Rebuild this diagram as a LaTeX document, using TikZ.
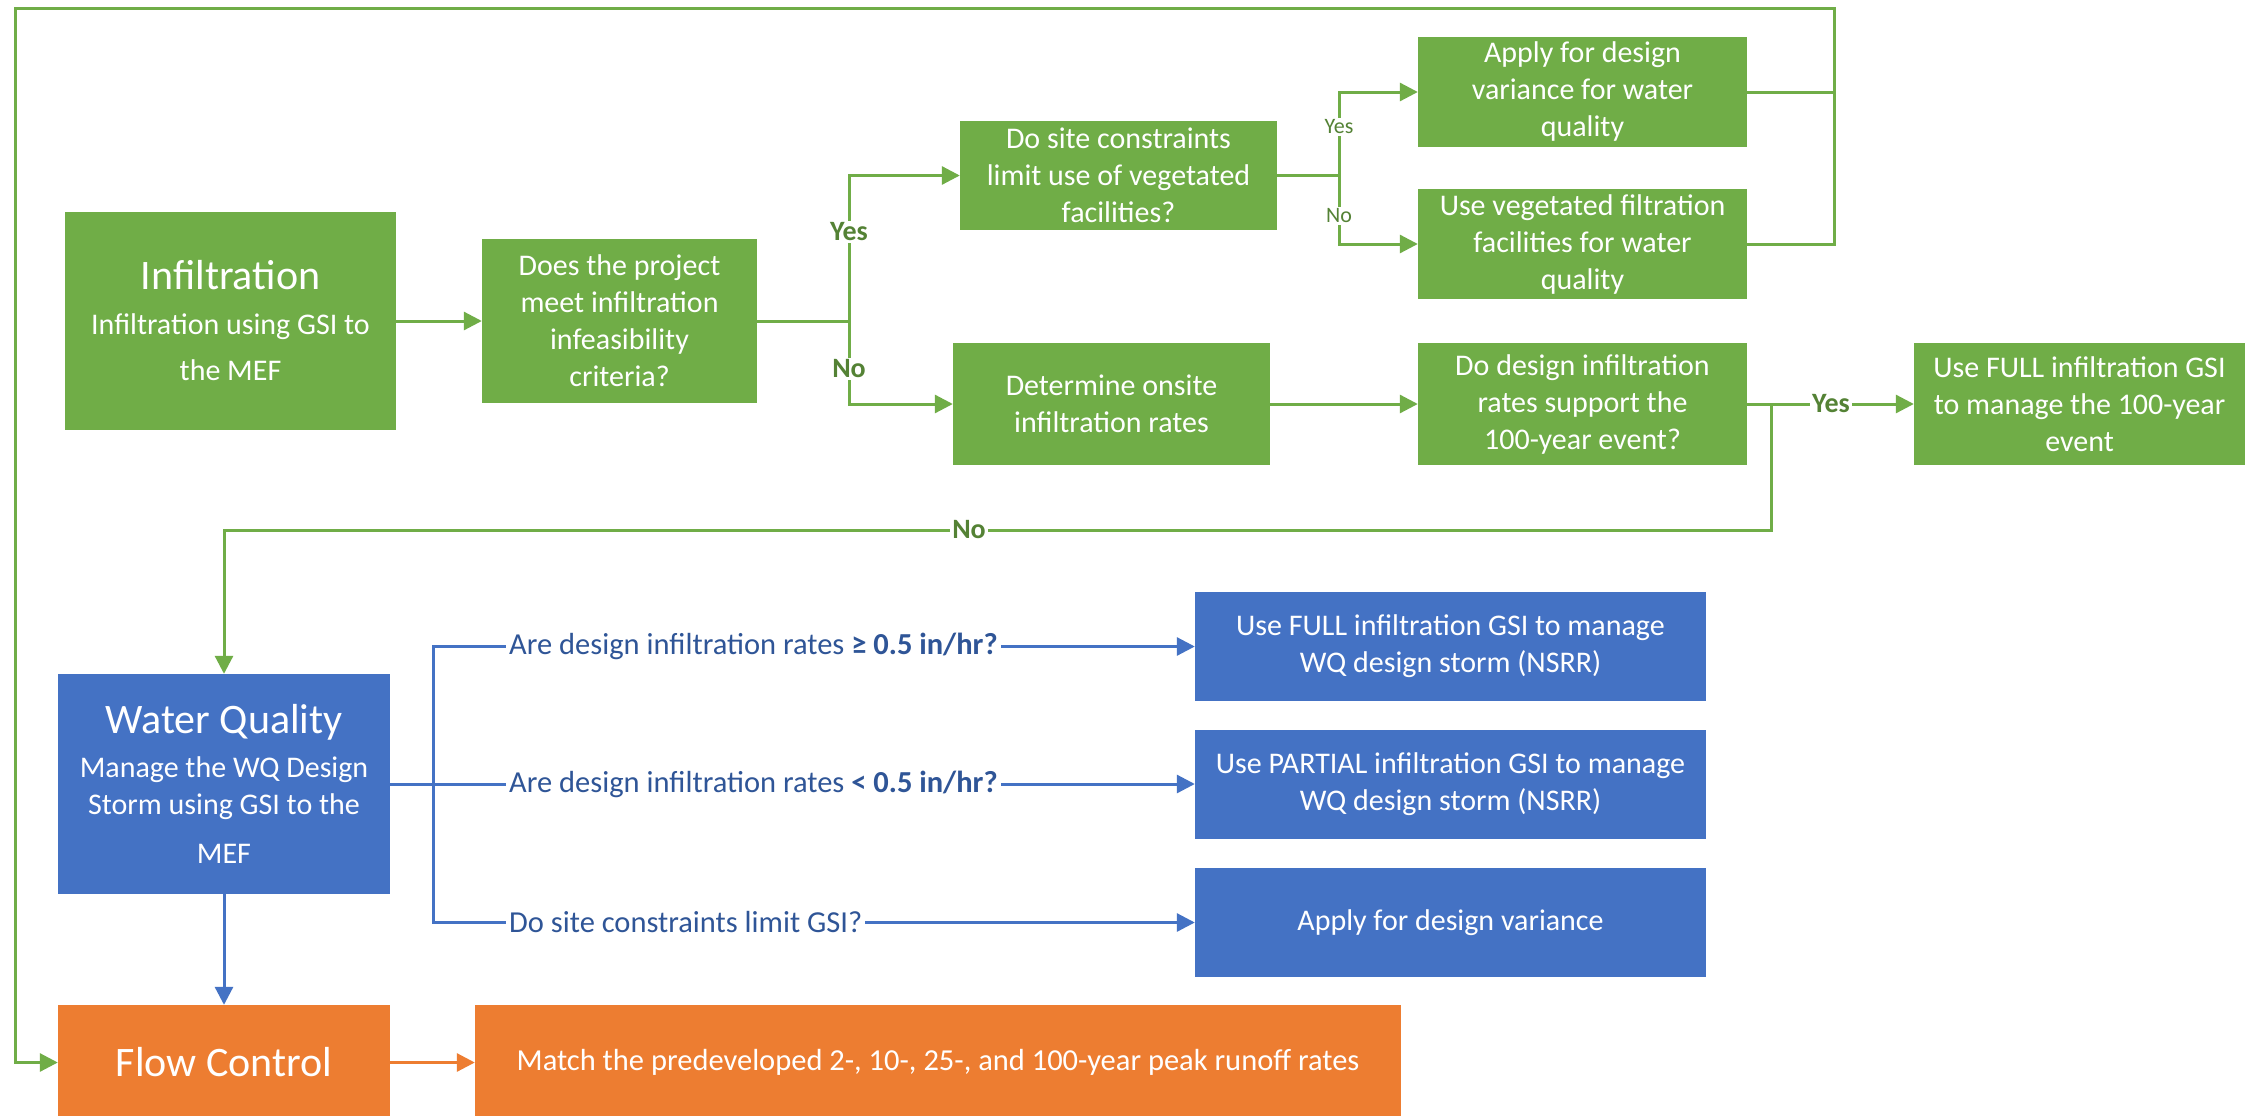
\documentclass[tikz,border=0pt]{standalone}
\usepackage{fontspec}
\setmainfont{Carlito}
\usetikzlibrary{arrows.meta}
\definecolor{gfill}{HTML}{70AD47}
\definecolor{bfill}{HTML}{4472C4}
\definecolor{ofill}{HTML}{ED7D31}
\definecolor{glab}{HTML}{548235}
\definecolor{btext}{HTML}{2F5597}
\begin{document}
\begin{tikzpicture}[x=1pt,y=-1pt,
  box/.style={rectangle, inner sep=0pt, align=center, text=white, font=\fontsize{30}{37}\selectfont},
  gbox/.style={box, fill=gfill},
  bbox/.style={box, fill=bfill},
  obox/.style={box, fill=ofill},
  gline/.style={draw=gfill, line width=3pt},
  bline/.style={draw=bfill, line width=3pt},
  oline/.style={draw=ofill, line width=3pt},
  tip/.style={-{Triangle[length=18pt,width=18pt]}},
  garrow/.style={gline, tip},
  barrow/.style={bline, tip},
  oarrow/.style={oline, tip},
  ylab/.style={fill=white, inner sep=2pt, text=glab, font=\fontsize{28}{28}\selectfont\bfseries},
  slab/.style={fill=white, inner sep=2pt, text=glab, font=\fontsize{22}{22}\selectfont},
  qlab/.style={fill=white, inner sep=3pt, anchor=west, text=btext, font=\fontsize{30.5}{30.5}\selectfont}
]
\useasboundingbox (0,0) rectangle (2257,1116);
\fill[white] (0,0) rectangle (2257,1116);

% green boxes
\node[gbox, minimum width=331pt, minimum height=218pt] (inf) at (230.5,321)
  {{\fontsize{42}{42}\selectfont Infiltration}\\[8pt]Infiltration using GSI to\\[9pt]the MEF};
\node[gbox, minimum width=275pt, minimum height=164pt] (does) at (619.5,321)
  {Does the project\\meet infiltration\\infeasibility\\criteria?};
\node[gbox, minimum width=317pt, minimum height=109pt] (site) at (1118.5,175.5)
  {Do site constraints\\limit use of vegetated\\facilities?};
\node[gbox, minimum width=329pt, minimum height=110pt] (apply) at (1582.5,92)
  {Apply for design\\variance for water\\quality};
\node[gbox, minimum width=329pt, minimum height=110pt] (veg) at (1582.5,244)
  {Use vegetated filtration\\facilities for water\\quality};
\node[gbox, minimum width=317pt, minimum height=122pt] (det) at (1111.5,404)
  {Determine onsite\\infiltration rates};
\node[gbox, minimum width=329pt, minimum height=122pt] (dd) at (1582.5,404)
  {Do design infiltration\\rates support the\\100-year event?};
\node[gbox, minimum width=331pt, minimum height=122pt] (full) at (2079.5,404)
  {Use FULL infiltration GSI\\to manage the 100-year\\event};

% blue boxes
\node[bbox, minimum width=332pt, minimum height=220pt] (wq) at (224,784)
  {{\fontsize{42}{42}\selectfont Water Quality}\\[7pt]Manage the WQ Design\\Storm using GSI to the\\[12pt]MEF};
\node[bbox, minimum width=511pt, minimum height=109pt] (b1) at (1450.5,646.5)
  {Use FULL infiltration GSI to manage\\WQ design storm (NSRR)};
\node[bbox, minimum width=511pt, minimum height=109pt] (b2) at (1450.5,784)
  {Use PARTIAL infiltration GSI to manage\\WQ design storm (NSRR)};
\node[bbox, minimum width=511pt, minimum height=109pt] (b3) at (1450.5,922.5)
  {Apply for design variance};

% orange boxes
\node[obox, minimum width=332pt, minimum height=115pt] (fc) at (224,1062.5)
  {\fontsize{42}{42}\selectfont Flow Control};
\node[obox, minimum width=926pt, minimum height=115pt] (match) at (938,1062.5)
  {\fontsize{30.5}{30.5}\selectfont Match the predeveloped 2-, 10-, 25-, and 100-year peak runoff rates};

% coordinates
\coordinate (br1) at (849,321);
\coordinate (br2) at (1339,175.5);
\coordinate (rt) at (1834,9);
\coordinate (lt) at (15,9);
\coordinate (nb) at (1771,404);
\coordinate (nc) at (1771,530);
\coordinate (bb) at (433,784);

% green connectors
\draw[garrow] (inf.east) -- (does.west);
\draw[gline] (does.east) -- (br1);
\draw[garrow] (br1) |- (site.west);
\draw[garrow] (br1) |- (det.west);
\draw[gline] (site.east) -- (br2);
\draw[garrow] (br2) |- (apply.west);
\draw[garrow] (br2) |- (veg.west);
\draw[gline] (apply.east) -| (rt);
\draw[garrow, line join=miter] (veg.east) -| (rt) -- (lt) |- (fc.west);
\draw[garrow] (det.east) -- (dd.west);
\draw[garrow] (dd.east) -- (full.west);
\draw[garrow, line join=miter] (nb) -- (nc) -| (wq.north);

\node[ylab] (yes1) at (849,232) {Yes};
\node[ylab] (no1) at (849,369) {No};
\node[slab] (yes2) at (1339,127) {Yes};
\node[slab] (no2) at (1339,216) {No};
\node[ylab] (yes3) at (1831,404) {Yes};
\node[ylab] (no3) at (969,530) {No};

% blue connectors
\draw[barrow] (wq.south) -- (fc.north);
\draw[barrow] (wq.east) -- (b2.west);
\draw[barrow, line join=miter] (bb) |- (b1.west);
\draw[barrow, line join=miter] (bb) |- (b3.west);
\node[qlab] (q1) at (506,646.5) {Are design infiltration rates \textbf{≥ 0.5 in/hr?}};
\node[qlab] (q2) at (506,784) {Are design infiltration rates \textbf{< 0.5 in/hr?}};
\node[qlab] (q3) at (506,922.5) {Do site constraints limit GSI?};

% orange connector
\draw[oarrow] (fc.east) -- (match.west);
\end{tikzpicture}
\end{document}
